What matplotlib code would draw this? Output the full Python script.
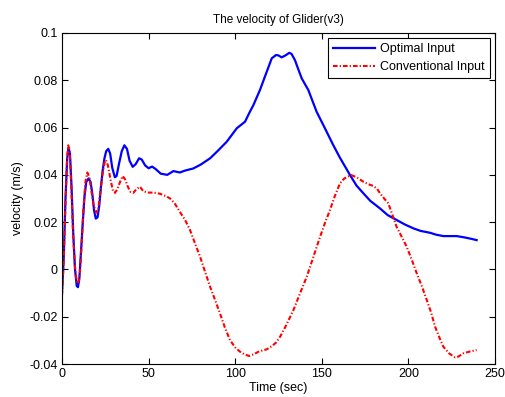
import numpy as np
import matplotlib
matplotlib.use("Agg")
import matplotlib.pyplot as plt

plt.rcParams['font.family'] = ['Liberation Sans', 'DejaVu Sans']

# Optimal input (blue)
t_opt = [0, 1, 2, 3, 3.8, 4.6, 5.5, 6.5, 7.5, 8.5, 9.2, 10, 11, 12, 13, 14, 15.3,
         16.5, 17.5, 18.5, 19.5, 20.5, 21.5, 22.5, 23.5, 24.5, 25.5, 26.7, 27.8,
         29, 30.5, 31.5, 33, 34.5, 36, 37.5, 39, 40.8, 42.5, 44.5, 46, 48, 50, 52,
         54, 57, 60.8, 64.3, 68, 71, 75.8, 80, 85.5, 90, 95.1, 100.9, 105.7, 108,
         110.5, 114.3, 118.2, 121.1, 123.6, 125, 126.8, 129, 131.2, 132.5, 134.5,
         136.5, 138.4, 142.2, 147, 151.8, 156.6, 160.5, 166.3, 170, 174, 178,
         183.6, 188, 193.2, 198, 202.8, 207, 212.5, 216, 220.2, 227.9, 232, 236,
         239.4]
v_opt = [-0.010, 0.005, 0.030, 0.047, 0.0515, 0.049, 0.035, 0.015, 0.000, -0.007,
         -0.0075, -0.004, 0.008, 0.020, 0.031, 0.037, 0.0385, 0.037, 0.032, 0.025,
         0.0215, 0.022, 0.027, 0.035, 0.042, 0.047, 0.050, 0.051, 0.049, 0.043,
         0.039, 0.0395, 0.045, 0.050, 0.0525, 0.051, 0.046, 0.0434, 0.0445, 0.047,
         0.0465, 0.044, 0.0428, 0.0435, 0.0425, 0.0405, 0.040, 0.0416, 0.041,
         0.0418, 0.0427, 0.0443, 0.047, 0.0502, 0.054, 0.0597, 0.0625, 0.066,
         0.0695, 0.0759, 0.0836, 0.0893, 0.0907, 0.0905, 0.0897, 0.0905, 0.0916,
         0.0912, 0.0885, 0.0845, 0.0808, 0.0759, 0.0667, 0.0597, 0.0526, 0.0472,
         0.0399, 0.0355, 0.0322, 0.029, 0.0258, 0.023, 0.0209, 0.019, 0.0174,
         0.0163, 0.0155, 0.0147, 0.0141, 0.0141, 0.0136, 0.013, 0.0124]

# Conventional input (red)
t_conv = [0, 1, 2, 3, 3.6, 4.4, 5.3, 6.3, 7.5, 8.5, 9.3, 10.3, 11.3, 12.3, 13.5,
          14.6, 15.8, 17, 18.3, 19.8, 21, 22, 23.3, 24.5, 25.4, 26.5, 28, 29.5,
          30.6, 32, 33.5, 35, 36.5, 38, 39.5, 41.2, 43, 45, 47, 50, 53, 56.6, 60,
          62.4, 65, 68, 71, 73.9, 76.8, 79.7, 82.6, 85.5, 88.4, 91.2, 94, 97, 100,
          102.8, 105.5, 108.2, 111, 113.4, 116, 118.2, 121, 123.5, 125.9, 129.5,
          133.6, 137.5, 141.3, 145, 149, 152, 154.7, 157.5, 160.5, 163, 167, 170,
          174, 177, 179.8, 182, 183.6, 186, 188.4, 190.8, 193.2, 196, 199, 202,
          204.8, 207.7, 210.6, 213, 215.4, 218, 220.2, 223.5, 226.9, 229, 231.7,
          235, 239.4]
v_conv = [-0.011, 0.004, 0.028, 0.048, 0.0525, 0.050, 0.036, 0.016, 0.001, -0.005,
          -0.006, -0.002, 0.010, 0.025, 0.037, 0.041, 0.039, 0.033, 0.027, 0.024,
          0.026, 0.032, 0.040, 0.045, 0.0463, 0.044, 0.038, 0.033, 0.0324, 0.034,
          0.037, 0.0395, 0.038, 0.035, 0.0328, 0.0324, 0.034, 0.035, 0.033, 0.0325,
          0.0325, 0.032, 0.031, 0.030, 0.028, 0.0244, 0.021, 0.0167, 0.011, 0.0054,
          -0.001, -0.0073, -0.013, -0.0186, -0.0245, -0.0299, -0.033, -0.0348,
          -0.036, -0.0366, -0.0358, -0.0348, -0.0342, -0.0338, -0.0325, -0.031,
          -0.0285, -0.0235, -0.0172, -0.010, -0.0031, 0.005, 0.0138, 0.020, 0.0251,
          0.031, 0.0364, 0.0385, 0.0399, 0.039, 0.0371, 0.036, 0.0353, 0.034,
          0.0322, 0.030, 0.028, 0.023, 0.018, 0.014, 0.0096, 0.004, -0.0016,
          -0.007, -0.0129, -0.018, -0.0242, -0.029, -0.0327, -0.0355, -0.0372,
          -0.0368, -0.0355, -0.0348, -0.0341]

x_ticks = [0, 50, 100, 150, 200, 250]
y_ticks = [-0.04, -0.02, 0, 0.02, 0.04, 0.06, 0.08, 0.1]
y_labels = ['-0.04', '-0.02', '0', '0.02', '0.04', '0.06', '0.08', '0.1']

fig = plt.figure(figsize=(5.05, 3.97), dpi=100)
ax = fig.add_axes([0.1228, 0.0831, 0.8574, 0.8338])

ax.plot(t_opt, v_opt, color='#0000ff', lw=1.6, label='Optimal Input')
ax.plot(t_conv, v_conv, color='#ff0000', lw=1.5, ls=(0, (2.2, 1.0, 0.6, 1.0)),
        label='Conventional Input')

ax.set_xlim(0, 250)
ax.set_ylim(-0.04, 0.1)
ax.set_xticks(x_ticks)
ax.set_yticks(y_ticks)
ax.set_yticklabels(y_labels)
ax.tick_params(direction='in', top=True, right=True, labelsize=9, length=4,
               width=0.8, pad=3)
for s in ax.spines.values():
    s.set_linewidth(0.8)

ax.set_xlabel('Time (sec)', fontsize=9, labelpad=1)
ax.set_ylabel('velocity (m/s)', fontsize=9, labelpad=4)
ax.set_title('The velocity of Glider(v3)', fontsize=8.5, pad=7)

leg = ax.legend(loc='upper right', fontsize=9, fancybox=False, framealpha=1,
                edgecolor='black', borderaxespad=0.4, handlelength=3.4,
                handletextpad=0.4, borderpad=0.4, labelspacing=0.5)
leg.get_frame().set_linewidth(0.8)

fig.savefig('out.png', dpi=100)
